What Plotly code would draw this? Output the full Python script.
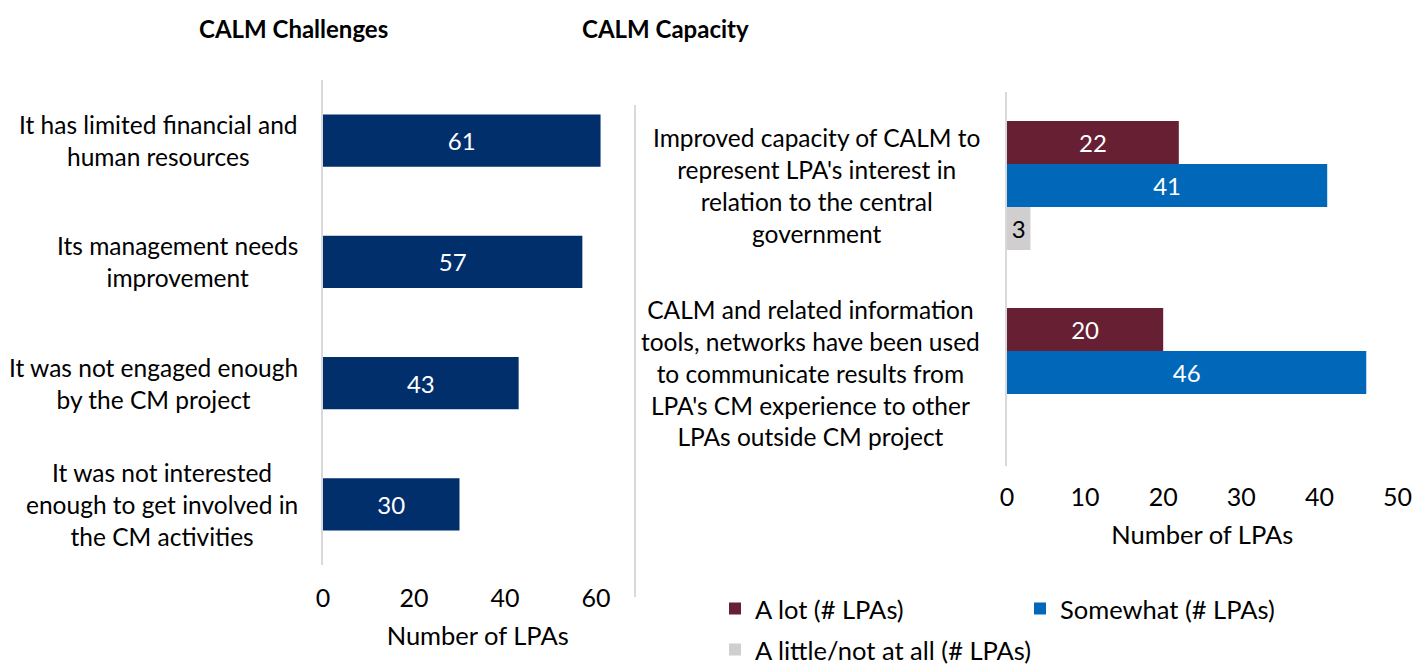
import plotly.graph_objects as go

W, H = 1412, 666

# ---------------- data ----------------
challenge_labels = [
    "It has limited financial and<br>human resources",
    "Its management needs<br>improvement",
    "It was not engaged enough<br>by the CM project",
    "It was not interested<br>enough to get involved in<br>the CM activities",
]
challenge_keys = ["c1", "c2", "c3", "c4"]
challenge_counts = [61, 57, 43, 30]

capacity_labels = [
    "Improved capacity of CALM to<br>represent LPA's interest in<br>relation to the central<br>government",
    "CALM and related information<br>tools, networks have been used<br>to communicate results from<br>LPA's CM experience to other<br>LPAs outside CM project",
]
capacity_keys = ["k1", "k2"]
a_lot = [22, 20]
somewhat = [41, 46]
a_little = [3, None]

series_names = ["A lot (# LPAs)", "Somewhat (# LPAs)", "A little/not at all (# LPAs)"]
left_ticks = [0, 20, 40, 60]
right_ticks = [0, 10, 20, 30, 40, 50]

# ---------------- style ----------------
FONT = "Lato"
NAVY = "#002F6C"
MAROON = "#661F33"
BLUE = "#0067B9"
GREY = "#D0CECE"
AXIS_GREY = "#D9D9D9"


def px(x):
    return x / W


def py(y):
    return 1 - y / H


def lbl(vals):
    return ["" if v is None else str(v) for v in vals]


fig = go.Figure()

fig.add_trace(go.Bar(
    x=challenge_counts, y=challenge_keys, orientation="h",
    marker=dict(color=NAVY, line=dict(width=0)),
    width=0.43,
    text=lbl(challenge_counts), textposition="inside", insidetextanchor="middle",
    textfont=dict(color="white", size=24, family=FONT),
    xaxis="x", yaxis="y", showlegend=False, hoverinfo="skip",
))

for name, vals, col, tcol, leg in [
    (series_names[0], a_lot, MAROON, "white", "legend"),
    (series_names[1], somewhat, BLUE, "white", "legend"),
    (series_names[2], a_little, GREY, "black", "legend2"),
]:
    fig.add_trace(go.Bar(
        x=vals, y=capacity_keys, orientation="h", name=name,
        marker=dict(color=col, line=dict(width=0)),
        text=lbl(vals), textposition="inside", insidetextanchor="middle",
        constraintext="none",
        textfont=dict(color=tcol, size=24, family=FONT),
        xaxis="x2", yaxis="y2", legend=leg, hoverinfo="skip",
    ))

annotations = []
for k, t in zip(challenge_keys, challenge_labels):
    annotations.append(dict(
        x=px(300), xref="paper", y=k, yref="y", text=t, showarrow=False,
        xanchor="right", yanchor="middle", align="center",
        font=dict(family=FONT, size=24.5, color="black"),
    ))
for k, t in zip(capacity_keys, capacity_labels):
    annotations.append(dict(
        x=px(982), xref="paper", y=k, yref="y2", text=t, showarrow=False,
        xanchor="right", yanchor="middle", align="center",
        font=dict(family=FONT, size=24.5, color="black"),
    ))
annotations.append(dict(
    x=px(293), y=py(28), xref="paper", yref="paper", text="<b>CALM Challenges</b>",
    showarrow=False, xanchor="center", yanchor="middle",
    font=dict(family=FONT, size=24, color="black"),
))
annotations.append(dict(
    x=px(665), y=py(28), xref="paper", yref="paper", text="<b>CALM Capacity</b>",
    showarrow=False, xanchor="center", yanchor="middle",
    font=dict(family=FONT, size=24, color="black"),
))

tick_font = dict(family=FONT, size=25, color="black")
title_font = dict(family=FONT, size=25.5, color="black")
legend_font = dict(family=FONT, size=25.5, color="black")

fig.update_layout(
    width=W, height=H,
    margin=dict(l=0, r=0, t=0, b=0, autoexpand=False),
    paper_bgcolor="white", plot_bgcolor="white",
    barmode="group", bargap=0.31, bargroupgap=0,
    font=dict(family=FONT, size=24, color="black"),
    xaxis=dict(
        domain=[px(323), px(323 + 68 * 4.55)], range=[0, 68],
        tickvals=left_ticks, showgrid=False, zeroline=False, showline=False,
        ticks="", tickfont=tick_font, ticklabelstandoff=16,
        title=dict(text="Number of LPAs", font=title_font, standoff=16),
        anchor="y", automargin=False,
    ),
    yaxis=dict(
        domain=[py(565), py(80)], categoryorder="array", categoryarray=challenge_keys,
        autorange="reversed", showticklabels=False, showgrid=False, zeroline=False,
        showline=True, linecolor=AXIS_GREY, linewidth=2, ticks="", anchor="x",
        automargin=False,
    ),
    xaxis2=dict(
        domain=[px(1007), px(1007 + 50 * 7.81)], range=[0, 50],
        tickvals=right_ticks, showgrid=False, zeroline=False, showline=False,
        ticks="", tickfont=tick_font, ticklabelstandoff=14, ticklabeloverflow="allow",
        title=dict(text="Number of LPAs", font=title_font, standoff=16),
        anchor="y2", automargin=False,
    ),
    yaxis2=dict(
        domain=[py(466), py(92)], categoryorder="array", categoryarray=capacity_keys,
        autorange="reversed", showticklabels=False, showgrid=False, zeroline=False,
        showline=True, linecolor=AXIS_GREY, linewidth=2, ticks="", anchor="x2",
        automargin=False,
    ),
    legend=dict(
        orientation="h", x=px(715), y=py(609), xanchor="left", yanchor="middle",
        entrywidth=260, entrywidthmode="pixels",
        font=legend_font, bgcolor="rgba(0,0,0,0)", traceorder="normal",
    ),
    legend2=dict(
        orientation="h", x=px(715), y=py(650), xanchor="left", yanchor="middle",
        font=legend_font, bgcolor="rgba(0,0,0,0)",
    ),
    annotations=annotations,
    shapes=[dict(
        type="line", xref="paper", yref="paper",
        x0=px(635), x1=px(635), y0=py(105), y1=py(597),
        line=dict(color=AXIS_GREY, width=2),
    )],
)

fig.write_html(
    "out.html",
    config={"displayModeBar": False},
    post_script="document.body.style.margin='0';document.body.style.overflow='hidden';",
)
